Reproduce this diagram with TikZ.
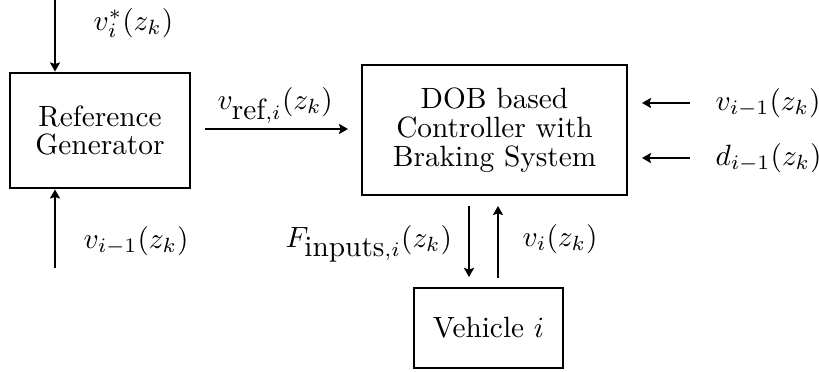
\documentclass[tikz,border=0pt]{standalone}
\usetikzlibrary{arrows.meta}
% one drawing unit = one pixel of the intended output
\newcommand\pxu{0.341pt}
\begin{document}
\begin{tikzpicture}[x=\pxu, y=-\pxu,
  blockbox/.style={draw, line width=1pt, align=center, inner sep=0pt,
    font=\fontsize{10pt}{9.8pt}\selectfont},
  sig/.style={line width=1pt, -{Stealth[length=9*\pxu, width=10*\pxu, inset=1.5*\pxu]}},
  lbl/.style={inner sep=0pt, anchor=base west}]
\useasboundingbox (0,0) rectangle (819,372);

% blocks
\node[blockbox, minimum width=180*\pxu, minimum height=115*\pxu] (refgen) at (100,130.5)
  {Reference\\Generator};
\node[blockbox, minimum width=265*\pxu, minimum height=130*\pxu] (dob) at (494.5,130)
  {DOB based\\Controller with\\Braking System};
\node[blockbox, minimum width=149*\pxu, minimum height=80*\pxu] (veh) at (488.5,328)
  {Vehicle $i$};

% free ends of the signal lines
\coordinate (topin) at (55,0);
\coordinate (botin) at (55,268);
\coordinate (refout) at (205,129);
\coordinate (refin) at (348,129);
\coordinate (vin) at (690,103);
\coordinate (din) at (690,158);
\coordinate (fout) at (469,206);
\coordinate (fin) at (469,277);
\coordinate (vout) at (498,278);
\coordinate (vback) at (498,206);

% signals
\draw[sig] (topin) -- (topin |- refgen.north);
\draw[sig] (botin) -- (botin |- refgen.south);
\draw[sig] (refout) -- (refin);
\draw[sig] (vin) -- (vin -| 642,0);
\draw[sig] (din) -- (din -| 642,0);
\draw[sig] (fout) -- (fin);
\draw[sig] (vout) -- (vback);

% labels (placed by their baselines)
\node[lbl] (lstar) at (93,30) {$v_i^*(z_k)$};
\node[lbl] (lprev) at (83,248) {$v_{i-1}(z_k)$};
\node[lbl] (lref) at (217,109) {$v_{\mbox{ref},i}(z_k)$};
\node[lbl] (lvprev) at (715,110) {$v_{i-1}(z_k)$};
\node[lbl] (ldprev) at (715,165) {$d_{i-1}(z_k)$};
\node[lbl] (lforce) at (285,247) {$F_{\mbox{inputs},i}(z_k)$};
\node[lbl] (lvel) at (522,246) {$v_i(z_k)$};
\end{tikzpicture}
\end{document}
